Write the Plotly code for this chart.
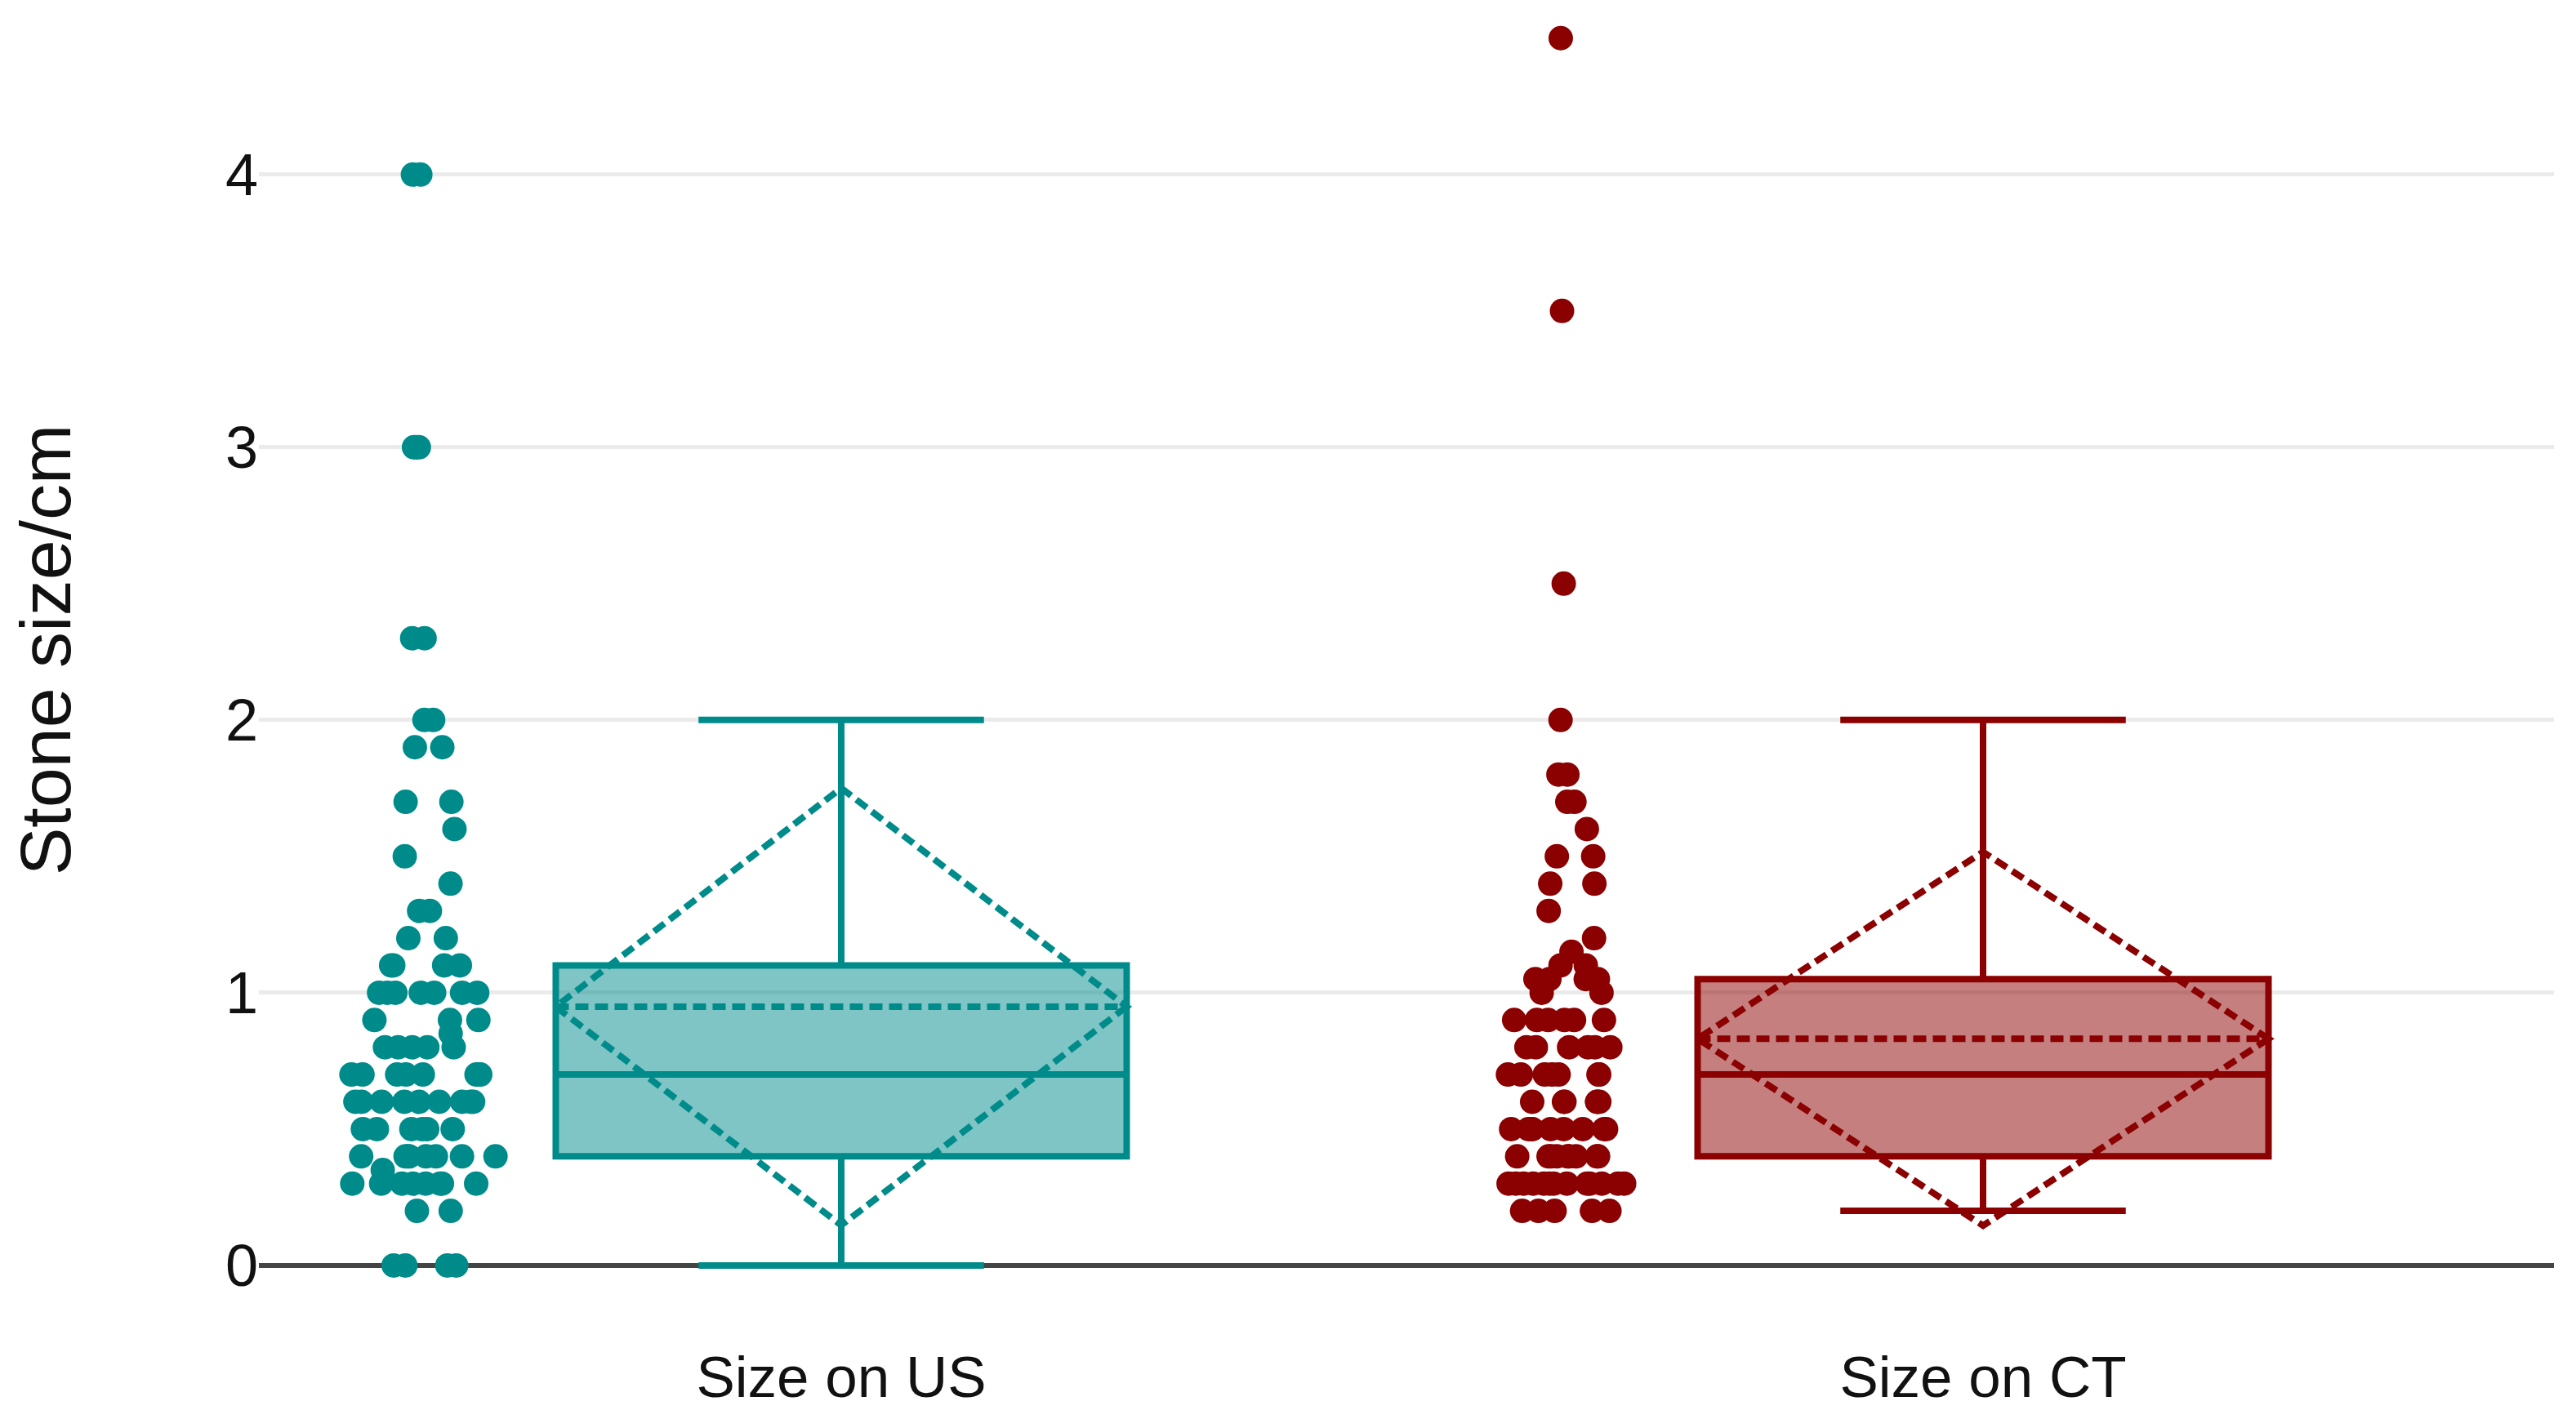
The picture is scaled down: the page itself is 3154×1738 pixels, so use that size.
import plotly.graph_objects as go

# ---- data ----
categories = ["Size on US", "Size on CT"]

us_sizes = [
    0, 0, 0, 0,
    0.2, 0.2,
    0.3, 0.3, 0.3, 0.3, 0.3, 0.3, 0.3, 0.3,
    0.35,
    0.4, 0.4, 0.4, 0.4, 0.4, 0.4, 0.4, 0.4,
    0.5, 0.5, 0.5, 0.5, 0.5, 0.5,
    0.6, 0.6, 0.6, 0.6, 0.6, 0.6, 0.6, 0.6, 0.6,
    0.7, 0.7, 0.7, 0.7, 0.7, 0.7, 0.7, 0.7,
    0.8, 0.8, 0.8, 0.8, 0.8,
    0.85,
    0.9, 0.9, 0.9,
    1.0, 1.0, 1.0, 1.0, 1.0, 1.0, 1.0,
    1.1, 1.1, 1.1, 1.1,
    1.2, 1.2,
    1.3, 1.3,
    1.4, 1.5, 1.6,
    1.7, 1.7,
    1.9, 1.9,
    2.0, 2.0,
    2.3, 2.3,
    3.0, 3.0, 3.0,
    4.0, 4.0,
]

ct_sizes = [
    0.2, 0.2, 0.2, 0.2, 0.2,
    0.3, 0.3, 0.3, 0.3, 0.3, 0.3, 0.3, 0.3, 0.3, 0.3, 0.3, 0.3, 0.3,
    0.4, 0.4, 0.4, 0.4, 0.4, 0.4, 0.4, 0.4, 0.4,
    0.5, 0.5, 0.5, 0.5, 0.5, 0.5, 0.5, 0.5, 0.5,
    0.6, 0.6, 0.6, 0.6, 0.6, 0.6,
    0.7, 0.7, 0.7, 0.7, 0.7, 0.7, 0.7,
    0.8, 0.8, 0.8, 0.8, 0.8, 0.8,
    0.9, 0.9, 0.9, 0.9, 0.9, 0.9,
    1.0, 1.0,
    1.05, 1.05, 1.05, 1.05,
    1.1, 1.1,
    1.15, 1.2, 1.3,
    1.4, 1.4,
    1.5, 1.5,
    1.6,
    1.7, 1.7,
    1.8, 1.8,
    2.0,
    2.5, 3.5, 4.5,
]

series = [us_sizes, ct_sizes]
line_colors = ["#008B8B", "#8B0000"]
fill_colors = ["rgba(0,139,139,0.5)", "rgba(139,0,0,0.5)"]
y_ticks = [0, 1, 2, 3, 4]
y_title = "Stone size/cm"

FONT = "Liberation Sans, Arial, Helvetica, sans-serif"

fig = go.Figure()
for name, vals, lc, fc in zip(categories, series, line_colors, fill_colors):
    fig.add_trace(go.Box(
        x=[name] * len(vals),
        y=vals,
        name=name,
        boxpoints="all",
        jitter=0.27,
        pointpos=-1.45,
        boxmean="sd",
        width=0.5,
        whiskerwidth=0.5,
        line=dict(color=lc, width=8),
        fillcolor=fc,
        marker=dict(color=lc, size=30, opacity=1),
        showlegend=False,
    ))

fig.update_layout(
    width=3154,
    height=1738,
    margin=dict(l=317, r=27, t=0, b=146, autoexpand=False),
    plot_bgcolor="white",
    paper_bgcolor="white",
    font=dict(family=FONT, size=71, color="#111111"),
    xaxis=dict(
        type="category",
        categoryorder="array",
        categoryarray=categories,
        range=[-0.51, 1.5],
        showgrid=False,
        zeroline=False,
        showline=False,
        ticks="",
        ticklabelstandoff=47,
        tickfont=dict(family=FONT, size=71, color="#111111"),
    ),
    yaxis=dict(
        range=[-0.126, 4.64],
        tickvals=y_ticks,
        ticktext=[str(v) for v in y_ticks],
        showgrid=True,
        gridcolor="#EBEBEB",
        gridwidth=5,
        zeroline=True,
        zerolinecolor="#444444",
        zerolinewidth=6,
        showline=False,
        ticks="",
        tickfont=dict(family=FONT, size=72, color="#111111"),
        title=dict(text=y_title, font=dict(family=FONT, size=88, color="#111111"), standoff=160),
        automargin=False,
    ),
)

fig.write_html(
    "out.html",
    config={"displayModeBar": False},
    post_script="document.body.style.margin='0';",
)
